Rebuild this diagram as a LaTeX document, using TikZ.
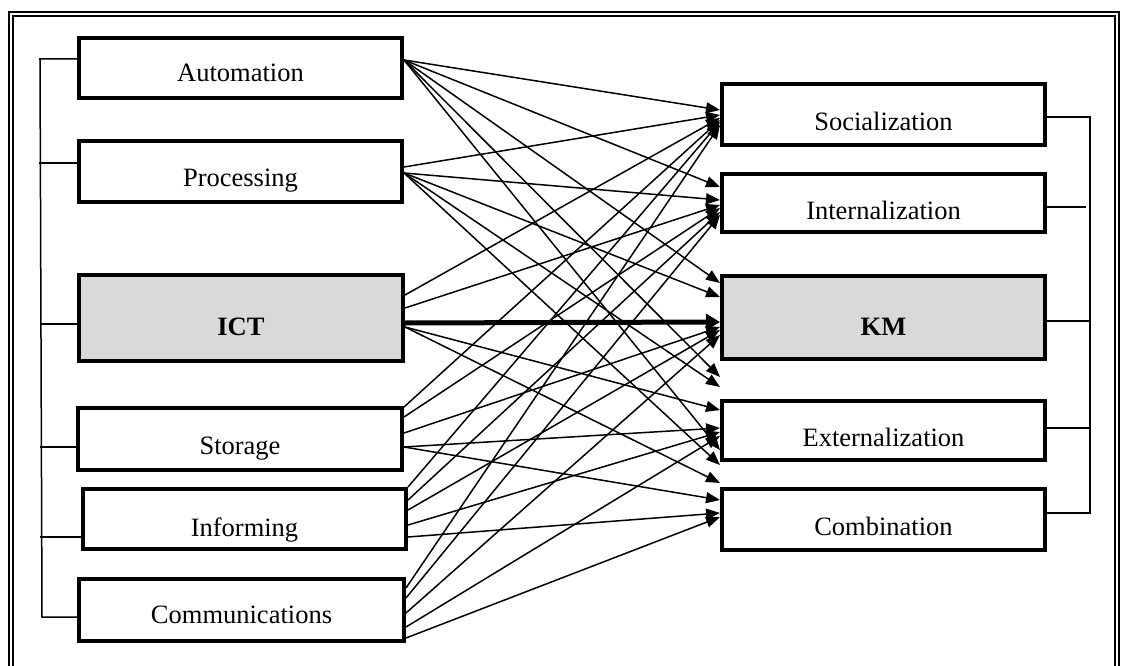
\documentclass[tikz,border=0pt]{standalone}
\usepackage{fontspec}
\setmainfont{Liberation Serif}
\usetikzlibrary{arrows.meta}
\definecolor{boxgray}{HTML}{D9D9D9}
\tikzset{
  box/.style={draw, line width=4pt, fill=white, minimum width=323pt,
    inner sep=0pt, text height=27pt, text depth=0pt,
    font=\fontsize{26.5}{30}\selectfont},
  kmbox/.style={box, text height=32pt},
  keybox/.style={box, fill=boxgray, text height=35pt,
    font=\fontsize{26.5}{30}\selectfont\bfseries},
  bus/.style={line width=1.5pt},
  link/.style={line width=1.5pt, -{Triangle[length=14pt,width=11pt]}},
  mainlink/.style={line width=5pt, -{Triangle[length=14pt,width=16pt]}},
  frame/.style={line width=1.4pt}
}
\newcommand\linkarrow[4]{\draw[link] (#1.east |- 0,#2) -- (#3.west |- 0,#4);}
\begin{document}
\begin{tikzpicture}[x=1pt,y=-1pt]
\useasboundingbox (0,0) rectangle (1124,666);
\clip (0,0) rectangle (1124,666);
% double frame
\draw[frame] (9,12) rectangle (1119,690);
\draw[frame] (13,16) rectangle (1115,690);

% ICT functions
\node[box, minimum height=60pt] (auto) at (240.5,68) {Automation};
\node[box, minimum height=61pt, text height=29pt] (proc) at (240.5,171.5) {Processing};
\node[keybox, minimum width=324pt, minimum height=86pt] (ict) at (241,318) {ICT};
\node[box, minimum width=324pt, minimum height=62pt, text height=31pt] (stor) at (240,439) {Storage};
\node[box, minimum height=60pt, text height=34pt] (inf) at (244.5,519) {Informing};
\node[box, minimum width=325pt, minimum height=62pt] (comm) at (241.5,610) {Communications};

% KM processes
\node[kmbox, minimum height=61pt] (soc) at (883.5,114.5) {Socialization};
\node[kmbox, minimum height=58pt] (int) at (883.5,203) {Internalization};
\node[keybox, minimum height=83pt] (km) at (883.5,317.5) {KM};
\node[kmbox, minimum height=59pt, text height=31pt] (ext) at (883.5,430.5) {Externalization};
\node[kmbox, minimum height=61pt] (comb) at (883.5,519.5) {Combination};

% left grouping bracket
\coordinate (lbtop) at (39,59);
\coordinate (lbbot) at (42,617);
\draw[bus] (auto.west |- lbtop) -- (lbtop) -- (40,59) -- (lbbot) -- (comm.west |- lbbot);
\draw[bus] (proc.west |- 0,163) -- (39,163);
\draw[bus] (ict.west |- 0,324) -- (40,324);
\draw[bus] (stor.west |- 0,447) -- (40,447);
\draw[bus] (inf.west |- 0,537) -- (40,537);

% right grouping bracket
\coordinate (rbtop) at (1090,117);
\coordinate (rbbot) at (1090,513);
\draw[bus] (soc.east |- rbtop) -- (rbtop) -- (rbbot) -- (comb.east |- rbbot);
\draw[bus] (int.east |- 0,207) -- (1086,207);
\draw[bus] (km.east |- 0,321) -- (1090,321);
\draw[bus] (ext.east |- 0,428) -- (1090,428);

% links from each function to the KM processes
\linkarrow{auto}{60}{soc}{110}
\linkarrow{auto}{60}{int}{187}
\linkarrow{auto}{60}{km}{283}
\linkarrow{auto}{60}{ext}{377}
\linkarrow{auto}{60}{ext}{450}

\linkarrow{proc}{167}{soc}{115}
\linkarrow{proc}{173}{int}{200}
\linkarrow{proc}{173}{km}{297}
\linkarrow{proc}{173}{ext}{387}
\linkarrow{proc}{173}{ext}{465}

\linkarrow{ict}{295}{soc}{118}
\linkarrow{ict}{308}{int}{205}
\linkarrow{ict}{327}{ext}{410}
\linkarrow{ict}{327}{comb}{483}
\draw[mainlink] (ict.east |- 0,323) -- (km.west |- 0,322);

\linkarrow{stor}{407}{soc}{120}
\linkarrow{stor}{417}{int}{208}
\linkarrow{stor}{433}{km}{327}
\linkarrow{stor}{447}{ext}{428}
\linkarrow{stor}{447}{comb}{500}

\linkarrow{inf}{487}{soc}{122}
\linkarrow{inf}{500}{int}{212}
\linkarrow{inf}{510}{km}{330}
\linkarrow{inf}{525}{ext}{432}
\linkarrow{inf}{537}{comb}{513}

\linkarrow{comm}{588}{soc}{125}
\linkarrow{comm}{598}{int}{215}
\linkarrow{comm}{613}{km}{335}
\linkarrow{comm}{627}{ext}{436}
\linkarrow{comm}{638}{comb}{517}
\end{tikzpicture}
\end{document}
